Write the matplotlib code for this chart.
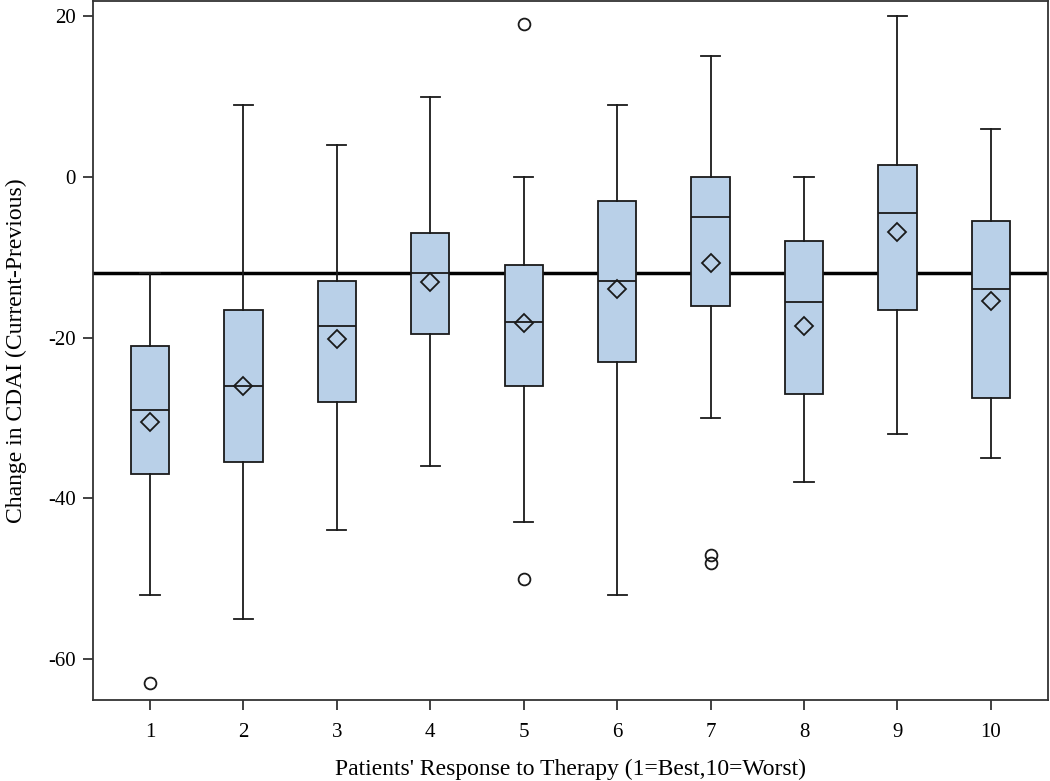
import numpy as np
import matplotlib
matplotlib.use('Agg')
import matplotlib.pyplot as plt

plt.rcParams['font.family'] = ['Liberation Serif', 'DejaVu Serif']
plt.rcParams['axes.unicode_minus'] = False

# Box statistics (Change in CDAI per response group)
groups = ['1', '2', '3', '4', '5', '6', '7', '8', '9', '10']
whislo = [-52, -55, -44, -36, -43, -52, -30, -38, -32, -35]
q1 = [-37, -35.5, -28, -19.5, -26, -23, -16, -27, -16.5, -27.5]
med = [-29, -26, -18.5, -12, -18, -13, -5, -15.5, -4.5, -14]
q3 = [-21, -16.5, -13, -7, -11, -3, 0, -8, 1.5, -5.5]
whishi = [-12, 9, 4, 10, 0, 9, 15, 0, 20, 6]
means = [-30.5, -26, -20.2, -13.1, -18.2, -14, -10.7, -18.6, -6.9, -15.4]
fliers = [[-63], [], [], [], [19, -50], [], [-47, -48], [], [], []]
ref_level = -12

stats = []
for i in range(len(groups)):
    stats.append({
        'label': groups[i], 'whislo': whislo[i], 'q1': q1[i], 'med': med[i],
        'q3': q3[i], 'whishi': whishi[i], 'mean': means[i], 'fliers': fliers[i],
    })

fig, ax = plt.subplots(figsize=(10.5, 7.81), dpi=100)
fig.subplots_adjust(left=0.0886, right=0.998, bottom=0.1037, top=0.9987)

ax.axhline(ref_level, color='black', lw=2.5, zorder=1)

positions = np.arange(1, len(groups) + 1)
ax.bxp(stats, positions=positions, widths=0.41, patch_artist=True,
       showmeans=True, showfliers=True,
       boxprops=dict(facecolor='#B9D0E8', edgecolor='#1a1a1a', lw=1.3),
       medianprops=dict(color='#1a1a1a', lw=1.3),
       whiskerprops=dict(color='#1a1a1a', lw=1.3),
       capprops=dict(color='#1a1a1a', lw=1.3),
       meanprops=dict(marker='D', markerfacecolor='none', markeredgecolor='#1a1a1a',
                      markersize=9, markeredgewidth=1.3),
       flierprops=dict(marker='o', markerfacecolor='none', markeredgecolor='#1a1a1a',
                       markersize=8.5, markeredgewidth=1.3))

ax.set_xlim(0.39, 10.61)
ax.set_ylim(-65.1, 21.9)
ax.set_yticks([20, 0, -20, -40, -60])
ax.set_xticks(positions)
ax.set_xticklabels(groups)
ax.tick_params(direction='out', length=7.5, width=1.3, labelsize=15, color='#333333')
ax.tick_params(axis='x', pad=9)
ax.tick_params(axis='y', pad=5)
for sp in ax.spines.values():
    sp.set_linewidth(1.3)
    sp.set_color('#333333')

ax.set_xlabel("Patients' Response to Therapy (1=Best,10=Worst)", fontsize=17, labelpad=12)
ax.set_ylabel('Change in CDAI (Current-Previous)', fontsize=17, labelpad=15)

plt.savefig('out.png', dpi=100)
